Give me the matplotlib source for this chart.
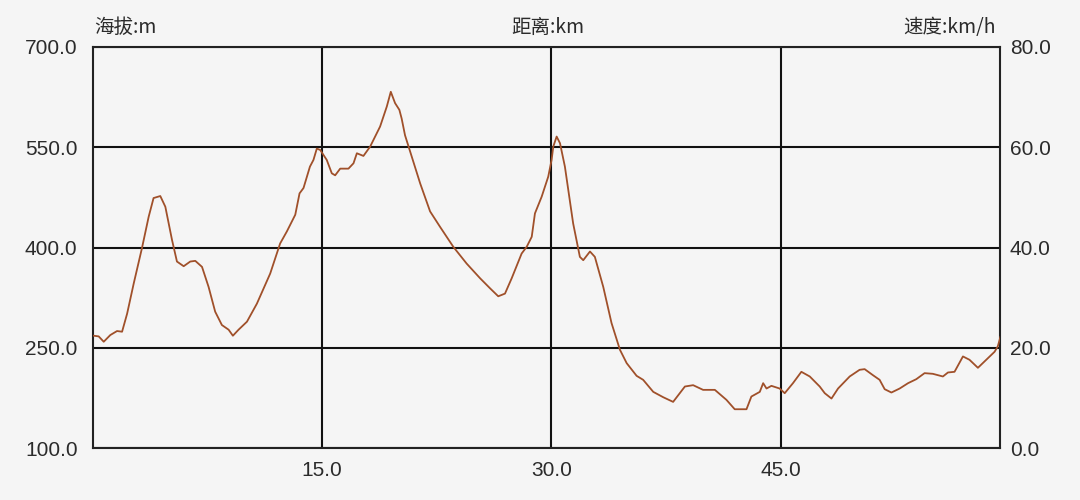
import matplotlib.pyplot as plt
from matplotlib.ticker import FormatStrFormatter

plt.rcParams['font.family'] = ['Noto Sans CJK SC', 'DejaVu Sans']

distance_km = [0.05, 0.38, 0.71, 1.14, 1.58, 1.91, 2.24, 2.67, 3.21, 3.65, 3.97, 4.41, 4.74,
               5.18, 5.5, 5.94, 6.37, 6.7, 7.14, 7.57, 8.0, 8.44, 8.88, 9.16, 9.53, 10.08,
               10.73, 11.6, 12.25, 12.69, 13.24, 13.52, 13.78, 14.2, 14.43, 14.65, 14.87,
               15.3, 15.63, 15.85, 16.18, 16.72, 17.05, 17.27, 17.7, 18.14, 18.79, 19.23,
               19.49, 19.77, 20.05, 20.2, 20.42, 20.86, 21.41, 22.06, 22.71, 23.58, 24.45,
               25.33, 25.98, 26.52, 26.96, 27.4, 28.05, 28.38, 28.71, 28.92, 29.36, 29.79,
               30.01, 30.12, 30.34, 30.56, 30.88, 31.42, 31.86, 32.08, 32.52, 32.84, 33.39,
               33.93, 34.48, 34.92, 35.57, 36.0, 36.66, 37.31, 37.96, 38.73, 39.27, 39.92,
               40.69, 41.45, 41.99, 42.76, 43.08, 43.63, 43.85, 44.07, 44.39, 44.93, 45.26,
               45.8, 46.35, 46.9, 47.55, 47.88, 48.32, 48.75, 49.51, 50.16, 50.49, 51.03,
               51.47, 51.8, 52.24, 52.78, 53.33, 53.87, 54.41, 54.95, 55.61, 55.94, 56.37,
               56.92, 57.35, 57.9, 58.44, 58.99, 59.2, 59.37]
altitude_m = [268, 267, 259, 269, 275, 274, 301, 346, 399, 446, 474, 477, 461,
              411, 379, 372, 379, 380, 371, 341, 304, 284, 277, 268, 277, 289,
              316, 361, 406, 424, 449, 481, 489, 521, 531, 548, 546,
              531, 511, 508, 518, 518, 526, 541, 537, 551, 581, 611,
              633, 616, 606, 593, 568, 536, 496, 454, 431, 401, 376,
              354, 339, 327, 331, 354, 391, 401, 416, 451, 476, 506,
              531, 551, 566, 556, 521, 436, 386, 381, 394, 386, 341,
              287, 247, 227, 208, 202, 184, 176, 169, 192, 194, 187,
              187, 172, 158, 158, 177, 184, 197, 189, 193, 189, 182,
              197, 214, 207, 192, 182, 174, 189, 207, 217, 218, 209,
              202, 188, 183, 189, 197, 203, 212, 211, 207, 213, 214,
              237, 232, 220, 232, 244, 252, 266]

ticks_alt = [100, 250, 400, 550, 700]
ticks_vit = [0, 20, 40, 60, 80]
ticks_dist = [15, 30, 45]

fond = "#f5f5f5"
texte = "#2b2b2b"
police_chiffres = ['Liberation Sans', 'DejaVu Sans']

fig = plt.figure(figsize=(10.8, 5), dpi=100, facecolor=fond)
ax = fig.add_axes([0.086, 0.104, 0.840, 0.802], facecolor=fond)

ax.plot(distance_km, altitude_m, color="#a0502a", linewidth=1.3, zorder=3)

ax.set_xlim(0, 59.35)
ax.set_ylim(100, 700)
ax.set_xticks(ticks_dist)
ax.set_yticks(ticks_alt)
ax.xaxis.set_major_formatter(FormatStrFormatter('%.1f'))
ax.yaxis.set_major_formatter(FormatStrFormatter('%.1f'))
ax.grid(True, color="#111111", linewidth=1.5)
for s in ax.spines.values():
    s.set_color("#222222")
    s.set_linewidth(1.5)
ax.tick_params(axis='y', length=0, labelsize=15, colors=texte, pad=11)
ax.tick_params(axis='x', length=0, labelsize=15, colors=texte, pad=9)

ax2 = ax.twinx()
ax2.set_ylim(0, 80)
ax2.set_yticks(ticks_vit)
ax2.yaxis.set_major_formatter(FormatStrFormatter('%.1f'))
ax2.tick_params(length=0, labelsize=15, colors=texte, pad=7)
for s in ax2.spines.values():
    s.set_visible(False)

for lab in ax.get_xticklabels() + ax.get_yticklabels() + ax2.get_yticklabels():
    lab.set_family(police_chiffres)

fig.text(0.087, 0.945, "海拔:m", fontsize=14, color=texte, ha="left", va="center")
fig.text(0.507, 0.945, "距离:km", fontsize=14, color=texte, ha="center", va="center")
fig.text(0.922, 0.945, "速度:km/h", fontsize=14, color=texte, ha="right", va="center")

fig.savefig("out.png", dpi=100, facecolor=fond)
